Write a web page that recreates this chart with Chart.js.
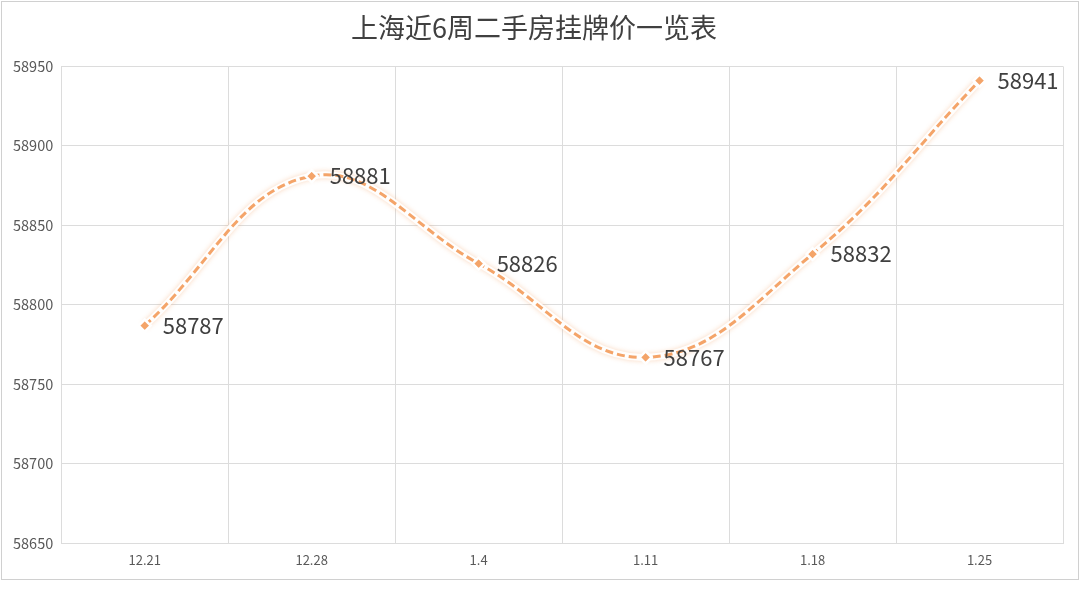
<!DOCTYPE html>
<html>
<head>
<meta charset="utf-8">
<script src="https://cdn.jsdelivr.net/npm/chart.js@4/dist/chart.umd.min.js"></script>
<style>
    html, body { margin: 0; padding: 0; background: #fff; }
    #wrap { position: relative; width: 1080px; height: 591px; }
    #frame { position: absolute; left: 1px; top: 1px; width: 1076px; height: 577px; border: 1px solid #d0d0d0; }
</style>
</head>
<body>
<div id="wrap">
    <div id="frame"></div>
    <canvas id="priceChart" width="1080" height="591"></canvas>
</div>
<script>
const weeks = ['12.21', '12.28', '1.4', '1.11', '1.18', '1.25'];
const listPrices = [58787, 58881, 58826, 58767, 58832, 58941];
const yTicks = [58650, 58700, 58750, 58800, 58850, 58900, 58950];

const lineColor = '#f4a469';
const fontFamily = '"Noto Sans CJK SC", "Noto Sans", sans-serif';

// soft halo under the dashed line
const glowPlugin = {
    id: 'glow',
    beforeDatasetDraw(chart, args) {
        const ctx = chart.ctx;
        ctx.save();
        if (args.index === 0) {
            ctx.shadowColor = 'rgba(244, 164, 105, 0.45)';
            ctx.shadowBlur = 5;
        }
    },
    afterDatasetDraw(chart) {
        chart.ctx.restore();
    }
};

// value labels to the right of each point
const labelPlugin = {
    id: 'valueLabels',
    afterDatasetsDraw(chart) {
        const ctx = chart.ctx;
        const meta = chart.getDatasetMeta(1);
        ctx.save();
        ctx.font = '22px ' + fontFamily;
        ctx.fillStyle = '#404040';
        ctx.textAlign = 'left';
        ctx.textBaseline = 'middle';
        meta.data.forEach((pt, i) => {
            ctx.fillText(String(listPrices[i]), pt.x + 18, pt.y);
        });
        ctx.restore();
    }
};

const ctx = document.getElementById('priceChart').getContext('2d');
new Chart(ctx, {
    type: 'line',
    data: {
        labels: weeks,
        datasets: [{
            data: listPrices,
            order: 2,
            borderColor: 'rgba(255, 255, 255, 0.95)',
            borderWidth: 7,
            tension: 0.4,
            pointRadius: 0,
            fill: false
        }, {
            data: listPrices,
            order: 1,
            borderColor: lineColor,
            borderWidth: 3,
            borderDash: [8, 4],
            tension: 0.4,
            pointStyle: 'rectRot',
            pointRadius: 6,
            pointBackgroundColor: lineColor,
            pointBorderColor: '#ffffff',
            pointBorderWidth: 2.5,
            fill: false
        }]
    },
    options: {
        responsive: false,
        animation: false,
        layout: { padding: { left: 5, right: 17, top: 0, bottom: 14 } },
        plugins: {
            legend: { display: false },
            tooltip: { enabled: false },
            title: {
                display: true,
                text: '上海近6周二手房挂牌价一览表',
                color: '#404040',
                font: { size: 27, family: fontFamily, weight: 'normal' },
                padding: { top: 12, bottom: 22 }
            }
        },
        scales: {
            x: {
                offset: true,
                grid: { offset: true, color: '#dcdcdc', drawTicks: false },
                border: { color: '#dcdcdc' },
                ticks: { color: '#595959', font: { size: 13, family: fontFamily }, padding: 9 }
            },
            y: {
                min: 58650,
                max: 58950,
                afterBuildTicks: (axis) => { axis.ticks = yTicks.map(v => ({ value: v })); },
                grid: { color: '#dcdcdc', drawTicks: false },
                border: { display: false },
                ticks: {
                    color: '#595959',
                    font: { size: 14.5, family: fontFamily },
                    padding: 8,
                    callback: (v) => String(v)
                }
            }
        }
    },
    plugins: [glowPlugin, labelPlugin]
});
</script>
</body>
</html>
